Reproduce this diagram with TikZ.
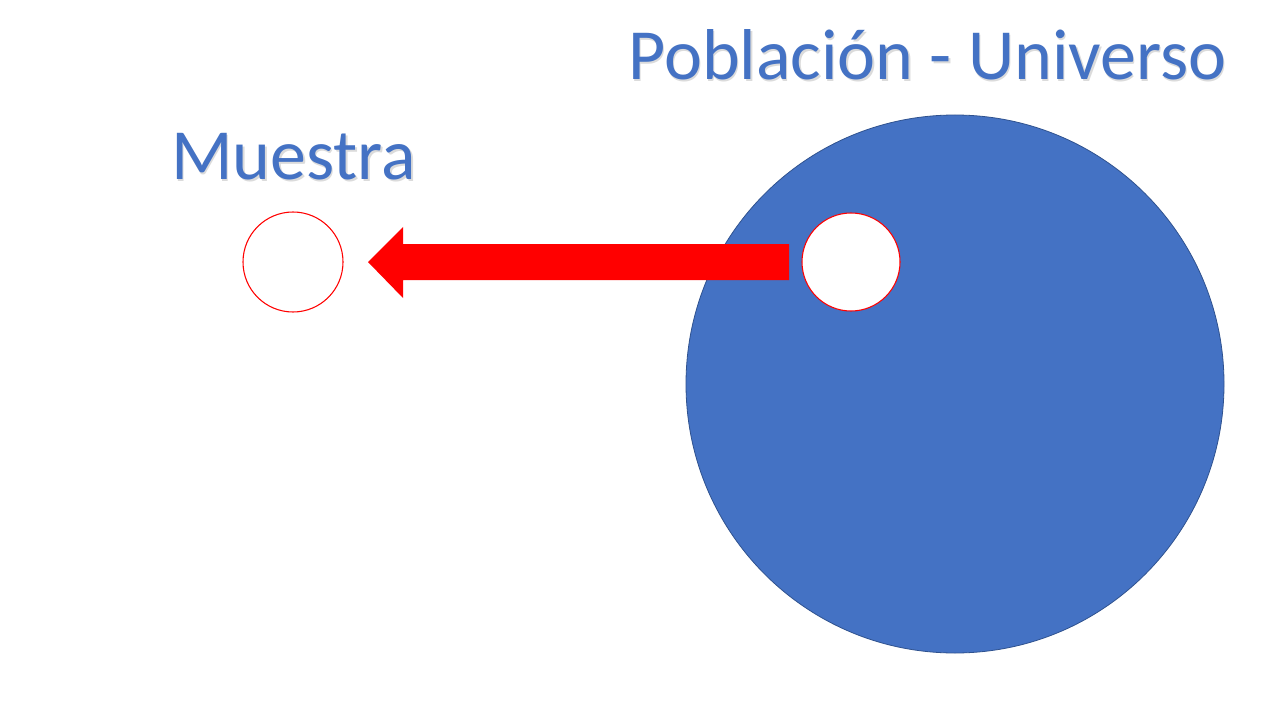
\documentclass[tikz,border=0pt]{standalone}
\usepackage{fontspec}
\setmainfont{Carlito}
\definecolor{accentblue}{HTML}{4472C4}
\definecolor{rimblue}{HTML}{2F528F}
\definecolor{arrowred}{HTML}{FF0000}
\begin{document}
\begin{tikzpicture}[x=0.75pt,y=-0.75pt,
  title/.style={font=\fontsize{54}{60}\selectfont,text=accentblue,inner sep=0pt,anchor=base west},
  titleshade/.style={font=\fontsize{54}{60}\selectfont,text=black!14,inner sep=0pt,anchor=base west},
  sample/.style={circle,draw=arrowred,line width=0.8pt,fill=white,inner sep=0pt}]
\useasboundingbox (0,0) rectangle (1280,720);
\fill[white] (0,0) rectangle (1280,720);
% population
\node[circle,fill=accentblue,draw=rimblue,line width=0.6pt,minimum size=538*0.75pt,inner sep=0pt] (pop) at (955,384) {};
\node[sample,minimum size=98*0.75pt] (inner) at (851,262) {};
\node[sample,minimum size=100*0.75pt] (outer) at (293,262) {};
% block arrow from the population subset to the sample
\fill[arrowred] (789,244) -- (403,244) -- (403,227) -- (368,262) -- (403,298) -- (403,280) -- (789,280) -- cycle;
% titles with soft shadow
\node[titleshade] at (629.5,81.5) {Población - Universo};
\node[title] (poptitle) at (628,80) {Población - Universo};
\node[titleshade] at (172.5,181.5) {Muestra};
\node[title] (smptitle) at (171,180) {Muestra};
\end{tikzpicture}
\end{document}
